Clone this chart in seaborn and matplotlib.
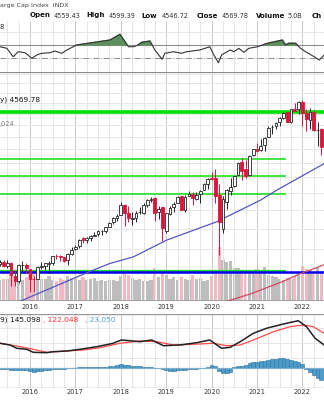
import numpy as np
import pandas as pd
import matplotlib
matplotlib.use("Agg")
import matplotlib.pyplot as plt
from matplotlib.ticker import NullLocator, NullFormatter
import seaborn as sns

sns.set_style("white")
plt.rcParams['font.family'] = ['DejaVu Sans']

# ---------------- data (monthly, May 2015 .. Jun 2022) ----------------
start_year, start_month = 2015, 5
opens = [2087.4, 2108.6, 2067.0, 2104.5, 1970.1, 1919.6, 2080.8, 2082.9,
         2038.2, 1936.9, 1937.1, 2056.6, 2067.2, 2093.9, 2099.3, 2173.2, 2171.3, 2164.3, 2128.7, 2200.2,
         2251.6, 2285.6, 2380.1, 2362.3, 2388.5, 2415.6, 2431.4, 2477.1, 2474.4, 2521.2, 2583.2, 2645.1,
         2683.7, 2816.5, 2715.2, 2633.5, 2643.0, 2718.7, 2705.0, 2821.2, 2897.0, 2926.3, 2717.6, 2790.5,
         2477.0, 2702.3, 2798.2, 2848.6, 2952.3, 2751.5, 2953.6, 2980.3, 2909.0, 2983.7, 3050.7, 3143.9,
         3244.7, 3235.7, 2974.3, 2498.1, 2869.1, 3038.8, 3105.9, 3288.3, 3507.4, 3385.9, 3296.2, 3645.9,
         3764.6, 3731.2, 3842.5, 3992.8, 4192.0, 4216.5, 4300.7, 4406.9, 4528.8, 4317.2, 4610.6, 4602.8,
         4778.1, 4519.6, 4363.1, 4540.3, 4130.6, 4149.8]
highs = [2134.7, 2129.9, 2132.8, 2112.7, 2021.0, 2094.3, 2116.5, 2104.3,
         2038.2, 1963.0, 2072.2, 2111.1, 2103.5, 2120.6, 2177.1, 2193.8, 2187.9, 2169.6, 2214.1, 2277.5,
         2301.0, 2371.5, 2401.0, 2398.2, 2418.7, 2453.8, 2484.0, 2490.9, 2519.4, 2583.0, 2657.7, 2695.0,
         2872.9, 2836.0, 2801.9, 2717.5, 2742.2, 2791.5, 2848.0, 2916.5, 2940.9, 2939.9, 2815.2, 2800.2,
         2709.0, 2813.5, 2860.3, 2949.5, 2954.1, 2964.2, 3028.0, 3013.6, 3022.0, 3050.1, 3154.3, 3247.9,
         3337.8, 3393.5, 3136.7, 2954.9, 3068.7, 3233.1, 3280.0, 3514.8, 3588.1, 3549.9, 3646.0, 3760.2,
         3870.9, 3950.4, 3983.9, 4218.8, 4238.0, 4302.4, 4430.0, 4537.4, 4545.9, 4608.1, 4743.8, 4808.9,
         4818.6, 4595.3, 4637.3, 4593.5, 4307.7, 4177.5]
lows = [2067.9, 2056.3, 2044.0, 1867.0, 1871.9, 1893.7, 2019.4, 1993.3,
        1812.3, 1810.1, 1937.1, 2033.8, 2025.9, 1991.7, 2074.0, 2147.6, 2119.1, 2114.7, 2083.8, 2187.4,
        2245.1, 2271.7, 2322.3, 2329.0, 2352.7, 2405.7, 2407.7, 2417.4, 2446.6, 2520.4, 2557.4, 2605.5,
        2682.4, 2532.7, 2585.9, 2553.8, 2594.6, 2699.0, 2699.0, 2796.3, 2864.1, 2603.5, 2631.1, 2346.6,
        2444.0, 2681.8, 2722.3, 2848.6, 2750.5, 2728.8, 2952.2, 2822.1, 2891.9, 2855.9, 3050.7, 3070.3,
        3214.6, 2855.8, 2191.9, 2447.5, 2766.6, 2965.7, 3101.2, 3284.5, 3209.5, 3233.9, 3279.7, 3633.4,
        3694.1, 3725.6, 3723.3, 3992.8, 4056.9, 4164.4, 4233.1, 4367.7, 4305.9, 4278.9, 4560.0, 4495.1,
        4222.6, 4114.7, 4157.9, 4124.3, 3810.3, 3636.9]
closes = [2107.4, 2063.1, 2103.8, 1972.2, 1920.0, 2079.4, 2080.4, 2043.9,
          1940.2, 1932.2, 2059.7, 2065.3, 2097.0, 2098.9, 2173.6, 2171.0, 2168.3, 2126.2, 2198.8, 2238.8,
          2278.9, 2363.6, 2362.7, 2384.2, 2411.8, 2423.4, 2470.3, 2471.7, 2519.4, 2575.3, 2647.6, 2673.6,
          2823.8, 2713.8, 2640.9, 2648.1, 2705.3, 2718.4, 2816.3, 2901.5, 2914.0, 2711.7, 2760.2, 2506.9,
          2704.1, 2784.5, 2834.4, 2945.8, 2752.1, 2941.8, 2980.4, 2926.5, 2976.7, 3037.6, 3141.0, 3230.8,
          3225.5, 2954.2, 2584.6, 2912.4, 3044.3, 3100.3, 3271.1, 3500.3, 3363.0, 3270.0, 3621.6, 3756.1,
          3714.2, 3811.2, 3972.9, 4181.2, 4204.1, 4297.5, 4395.3, 4522.7, 4307.5, 4605.4, 4567.0, 4766.2,
          4515.6, 4373.9, 4530.4, 4131.9, 4132.2, 3785.4]
prev_close_first = 2085.5
volumes = [60, 62, 62, 75, 70, 65, 60, 68,
           73, 75, 68, 62, 62, 70, 60, 55, 65, 60, 70, 65,
           62, 60, 66, 58, 62, 65, 55, 60, 56, 58, 60, 57,
           70, 84, 72, 64, 60, 62, 56, 57, 58, 92, 68, 82,
           72, 62, 66, 58, 68, 62, 58, 72, 62, 63, 56, 60,
           70, 82, 151, 115, 110, 112, 92, 92, 84, 80, 82, 78,
           90, 88, 95, 72, 70, 66, 62, 60, 64, 62, 70, 72,
           98, 90, 88, 78, 92, 85]

rsi_dates = [2015.34, 2015.49, 2015.63, 2015.74, 2015.89, 2016.04, 2016.15, 2016.26, 2016.44, 2016.55,
             2016.70, 2016.81, 2017.03, 2017.76, 2017.98, 2018.17, 2018.28, 2018.38, 2018.46, 2018.64,
             2018.69, 2018.75, 2018.91, 2018.97, 2019.16, 2019.34, 2019.45, 2019.74, 2019.96, 2020.03,
             2020.15, 2020.22, 2020.41, 2020.49, 2020.60, 2020.71, 2020.82, 2021.01, 2021.23, 2021.56,
             2021.63, 2021.70, 2021.85, 2021.96, 2022.07, 2022.26, 2022.37, 2022.48]
rsi_vals = [67.4, 65.0, 52.4, 59.9, 58.4, 50.0, 55.0, 57.5, 58.4, 61.0,
            57.5, 62.5, 70.0, 77.5, 86.1, 67.4, 67.4, 70.0, 74.1, 76.0,
            70.0, 62.5, 48.5, 57.5, 59.9, 57.5, 59.9, 62.5, 67.4, 57.5,
            43.4, 55.0, 62.5, 59.9, 65.0, 59.0, 65.0, 67.4, 72.6, 77.5,
            70.0, 72.6, 72.6, 65.0, 59.9, 52.4, 47.4, 55.0]

sma50_dates = [2015.67, 2017.39, 2017.76, 2018.28, 2019.01, 2020.11, 2021.07, 2021.43, 2022.48]
sma50_vals = [1709, 2025, 2095, 2167, 2360, 2591, 2891, 3043, 3487]
sma200_dates = [2020.18, 2020.86, 2021.52, 2021.96, 2022.48]
sma200_vals = [1709, 1794, 1902, 1990, 2081]

macd_dates = [2015.34, 2015.56, 2015.71, 2015.93, 2016.07, 2016.37, 2016.51, 2016.81, 2017.10, 2017.47,
              2017.83, 2018.01, 2018.20, 2018.42, 2018.68, 2018.94, 2019.30, 2019.67, 2019.96, 2020.22,
              2020.41, 2020.63, 2020.92, 2021.21, 2021.58, 2021.91, 2022.09, 2022.28, 2022.48]
macd_vals = [250, 233, 200, 190, 160, 156, 166, 173, 190, 216,
             250, 283, 276, 266, 283, 226, 233, 256, 283, 200,
             210, 266, 350, 400, 443, 476, 416, 300, 233]
signal_dates = [2015.34, 2015.71, 2016.07, 2016.37, 2016.81, 2017.17, 2017.54, 2017.98, 2018.42, 2018.79,
                2019.16, 2019.60, 2020.04, 2020.33, 2020.63, 2020.92, 2021.36, 2021.73, 2022.02, 2022.24, 2022.48]
signal_vals = [250, 223, 190, 160, 173, 183, 206, 250, 273, 266,
               233, 240, 250, 226, 233, 283, 366, 416, 433, 416, 350]
hist_vals = [-10, -10, -10, -15, -15, -15, -15, -20,
             -30, -35, -30, -25, -20, -15, -10, -10, -5, -5, 0, 0,
             5, 10, 10, 15, 15, 15, 15, 15, 15, 20, 25, 30,
             42, 35, 30, 25, 20, 20, 15, 15, 15, 5, 0, -5,
             -20, -25, -25, -20, -20, -15, -10, -10, -5, 0, 5, 10,
             30, 20, -30, -50, -50, -40, 10, 20, 25, 30, 50, 60,
             65, 70, 75, 85, 90, 95, 100, 100, 95, 85, 75, 60,
             40, -10, -40, -70, -100, -120]

year_ticks = [2016, 2017, 2018, 2019, 2020, 2021, 2022]
year_labels = ["2016", "2017", "2018", "2019", "2020", "2021", "2022"]
resist_main = 4539
support_short = [3569, 3273, 2984]
support_short_end = 2021.64
green_low = 2014
blue_level = 2004

# ---------------- derived ----------------
n = len(closes)
t = np.array([start_year + (start_month - 1 + i) / 12 for i in range(n)])
o, h, l, c = map(np.array, (opens, highs, lows, closes))
prev = np.concatenate([[prev_close_first], c[:-1]])
down = c < prev
hollow = c >= o

W, H = 324, 400
fig = plt.figure(figsize=(W / 100, H / 100), dpi=100)
def ax_at(top, bottom):
    return fig.add_axes([0, 1 - bottom / H, 1, (bottom - top) / H])

XL = (2015.339, 2022.476)
RED = "#dc143c"
GRID = "#e6e6e6"
GRIDY = "#c9c9c9"
quarters = np.arange(2015.25, 2022.6, 0.25)

def vgrid(ax):
    for q in quarters:
        yr = abs(q - round(q)) < 1e-6
        ax.axvline(q, color=GRIDY if yr else GRID, lw=0.7, zorder=0)

def clean(ax):
    ax.set_xlim(*XL)
    ax.set_yticks([])
    ax.yaxis.set_minor_locator(NullLocator())
    ax.yaxis.set_minor_formatter(NullFormatter())
    ax.tick_params(length=0, which="both")
    for s in ax.spines.values():
        s.set_visible(False)

# ---------------- RSI panel ----------------
ax_r = ax_at(21, 71.5)
clean(ax_r)
ax_r.set_xticks([])
ax_r.set_ylim(30.15, 106.1)
vgrid(ax_r)
ax_r.axhline(90, color=GRID, lw=0.7, zorder=0)
ax_r.axhline(70, color="#8c8c8c", lw=0.8, zorder=1)
ax_r.axhline(50, color="#8c8c8c", lw=0.7, ls="-.", zorder=1)
rd = np.array(rsi_dates); rv = np.array(rsi_vals)
ax_r.fill_between(rd, 70, rv, where=rv > 70, interpolate=True, color="#5d8f5d", zorder=2)
sns.lineplot(x=rd, y=rv, ax=ax_r, color="#333333", lw=0.8, legend=False, zorder=3)
ax_r.set_xlabel(""); ax_r.set_ylabel("")

# ---------------- Price panel ----------------
ax = ax_at(71.5, 301)
ax_v = ax.twinx()
ax.set_zorder(ax_v.get_zorder() + 1)
ax.patch.set_visible(False)
ax_v.patch.set_facecolor("white")
ax.set_yscale("log")
clean(ax); clean(ax_v)
ax.set_ylim(1730, 5578)
ax_v.set_ylim(0, 151 * 229.5 / 54)
ax_v.set_xticks([])
# volume
ax_v.bar(t, volumes, width=0.85 / 12, color=np.where(down, "#f0b8c2", "#bdbdbd"), lw=0)
vgrid(ax)
for lv in np.arange(2000, 5600, 250):
    ax.axhline(lv, color=GRID, lw=0.7, zorder=0)
ax.axhline(1730, color="#999999", lw=1.2, zorder=1)
ax.axhline(5578, color="#8c8c8c", lw=1.6, zorder=1)
# horizontal support/resistance
ax.axhline(resist_main, color="#00e000", lw=2.6, zorder=2)
for lv in support_short:
    ax.hlines(lv, XL[0], support_short_end, color="#22e022", lw=1.2, zorder=2)
ax.hlines(green_low, XL[0], support_short_end, color="#22dd22", lw=1.6, zorder=2)
ax.axhline(blue_level, color="#0000ee", lw=1.8, zorder=2)
# moving averages
sns.lineplot(x=sma50_dates, y=sma50_vals, ax=ax, color="#5555c8", lw=0.9, legend=False, zorder=3)
sns.lineplot(x=sma200_dates, y=sma200_vals, ax=ax, color="#d4485e", lw=0.9, legend=False, zorder=3)
ax.set_xlabel(""); ax.set_ylabel("")
# candles
ax.vlines(t, l, h, colors=np.where(down, RED, "#222222"), lw=0.7, zorder=4)
bw = 0.72 / 12
for ti, oi, ci, dn, ho in zip(t, o, c, down, hollow):
    col = RED if dn else "#222222"
    lo, hi = min(oi, ci), max(oi, ci)
    ax.bar(ti, hi - lo, bottom=lo, width=bw, color="white" if ho else col,
           edgecolor=col, lw=0.6, zorder=5)
ax.yaxis.set_minor_locator(NullLocator())
ax.yaxis.set_minor_formatter(NullFormatter())
ax.set_yticks([])
ax.set_xticks(year_ticks)
ax.set_xticklabels(year_labels, fontsize=4.8, color="#333333")
ax.tick_params(axis="x", pad=2.2, length=0)
ax.set_xlim(*XL); ax_v.set_xlim(*XL)

# ---------------- MACD panel ----------------
ax_m = ax_at(314, 388)
clean(ax_m)
ax_m.set_ylim(-197, 543)
vgrid(ax_m)
for lv in [100, 250, 400]:
    ax_m.axhline(lv, color=GRID, lw=0.7, zorder=0)
ax_m.axhline(543, color="#999999", lw=1.0, zorder=1)
ax_m.axhline(-197, color="#999999", lw=1.0, zorder=1)
ax_m.bar(t, hist_vals, width=1 / 12, color="#4c9ccb", edgecolor="#2b6f9c", lw=0.4, zorder=2)
ax_m.axhline(0, color="#7fb0cc", lw=0.9, zorder=3)
sns.lineplot(x=signal_dates, y=signal_vals, ax=ax_m, color="#ff4a4a", lw=0.9, legend=False, zorder=4)
sns.lineplot(x=macd_dates, y=macd_vals, ax=ax_m, color="#222222", lw=1.1, legend=False, zorder=5)
ax_m.set_xlabel(""); ax_m.set_ylabel("")
ax_m.set_xticks(year_ticks)
ax_m.set_xticklabels(year_labels, fontsize=4.8, color="#333333")
ax_m.tick_params(axis="x", pad=1.0, length=0)

# ---------------- texts ----------------
def ft(x, y, s, **kw):
    fig.text(x / W, 1 - y / H, s, va="center", ha="left", **kw)

ft(0, 6, "arge Cap Index  INDX", fontsize=4.6, color="#444444")
hdr = [(30, "Open", True), (53.3, "4559.43", False), (86, "High", True), (108.3, "4599.39", False),
       (141.7, "Low", True), (161.7, "4546.72", False), (196.7, "Close", True), (221.7, "4569.78", False),
       (256, "Volume", True), (287.3, "5.0B", False), (311.7, "Ch", True)]
for x, s, b in hdr:
    ft(x, 15.5, s, fontsize=5.0 if b else 4.7, fontweight="bold" if b else "normal",
       color="#111111" if b else "#333333")
ft(0, 27, "8", fontsize=4.8, color="#222222")
ft(0, 100, "y) 4569.78", fontsize=5.3, color="#111111")
ft(0, 124, ",024", fontsize=4.8, color="#777777")
ft(0, 320, "9) 145.098", fontsize=5.3, color="#111111")
ft(43.3, 320, ", 122.048", fontsize=5.3, color="#ff3030")
ft(85, 320, ", 23.050", fontsize=5.3, color="#4aa0d8")

fig.savefig("out.png", dpi=100)
